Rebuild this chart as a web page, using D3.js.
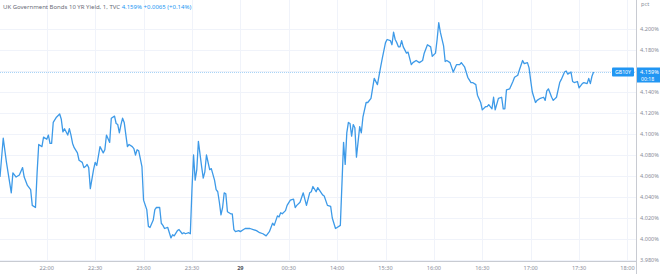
<!DOCTYPE html>
<html>
<head>
<meta charset="utf-8">
<script src="https://cdnjs.cloudflare.com/ajax/libs/d3/7.8.5/d3.min.js"></script>
<style>
  body { margin: 0; background: #fff; }
  svg { display: block; font-family: "Noto Sans", "DejaVu Sans", sans-serif; }
</style>
</head>
<body>
<svg id="chart" width="660" height="274"></svg>
<script>
// 1-minute bars, index counted from the first bar on the left
var bars = [0,2,4,7,8,10,12,14,15,17,19,20,22,23,24,26,27,29,30,31,32,33,35,37,38,39,40,42,43,44,45,46,48,49,51,52,53,54,55,56,58,59,60,62,64,65,66,68,69,71,72,73,74,75,76,77,79,80,82,83,84,85,86,88,89,91,92,
  93,95,96,97,99,100,101,102,104,105,106,107,108,110,111,113,114,115,117,118,119,120,121,122,123,125,126,127,128,130,131,133,134,135,136,137,138,139,140,141,143,144,145,146,148,149,151,152,153,155,157,159,161,163,165,167,169,170,172,173,174,175,177,178,180,182,183,184,
  186,188,190,192,193,194,196,197,200,201,203,205,206,208,209,211,213,214,215,216,217,218,219,220,221,223,224,225,227,228,230,232,234,236,237,239,240,242,243,244,245,246,247,248,249,250,252,253,255,256,258,260,262,263,265,267,268,270,271,272,273,275,276,277,
  279,281,283,285,286,288,290,292,293,295,296,298,299,301,302,303,305,306,307,309,311,312,313,314,316,318,319,321,322,324,325,327,328,329,330,332,333,335,337,338,339,340,342,343,345,347,348,350,351,352,354,355,356,358,359,361,362,364,365,366,367,368];

// yield, %
var yields = [4.059,4.096,4.073,4.044,4.063,4.059,4.061,4.068,4.059,4.051,4.047,4.032,4.030,4.063,4.090,4.088,4.097,4.095,4.099,4.091,4.091,4.111,4.116,4.119,4.114,4.102,4.105,4.099,4.105,4.099,4.091,4.087,4.082,4.075,4.073,4.068,4.069,4.071,4.068,4.048,4.066,4.073,4.070,4.088,4.082,4.085,4.099,4.092,4.115,4.117,4.110,4.109,4.101,4.109,4.115,4.111,4.088,4.090,4.088,4.086,4.080,4.085,4.084,4.069,4.037,4.028,4.012,
  4.011,4.018,4.028,4.030,4.030,4.015,4.013,4.010,4.011,4.006,4.001,4.004,4.003,4.008,4.009,4.005,4.006,4.005,4.006,4.005,4.047,4.080,4.056,4.066,4.093,4.069,4.058,4.064,4.080,4.066,4.067,4.056,4.047,4.045,4.035,4.023,4.030,4.044,4.043,4.026,4.024,4.024,4.009,4.007,4.008,4.007,4.009,4.010,4.010,4.010,4.009,4.008,4.006,4.005,4.003,4.007,4.015,4.013,4.022,4.021,4.025,4.024,4.027,4.032,4.037,4.038,4.030,4.032,
  4.035,4.044,4.032,4.044,4.045,4.050,4.045,4.049,4.042,4.041,4.032,4.031,4.020,4.010,4.011,4.013,4.092,4.071,4.101,4.111,4.110,4.098,4.109,4.106,4.078,4.107,4.101,4.116,4.130,4.130,4.134,4.153,4.147,4.164,4.172,4.187,4.190,4.189,4.185,4.197,4.190,4.187,4.183,4.183,4.189,4.183,4.177,4.178,4.166,4.168,4.170,4.168,4.170,4.177,4.185,4.183,4.174,4.177,4.190,4.206,4.197,4.184,4.169,4.170,
  4.168,4.159,4.166,4.166,4.168,4.164,4.154,4.149,4.149,4.147,4.137,4.130,4.123,4.126,4.126,4.128,4.124,4.135,4.123,4.134,4.135,4.124,4.124,4.142,4.143,4.150,4.154,4.156,4.161,4.170,4.167,4.168,4.163,4.151,4.140,4.130,4.132,4.134,4.135,4.132,4.141,4.143,4.135,4.132,4.135,4.149,4.152,4.159,4.160,4.157,4.159,4.150,4.149,4.150,4.144,4.148,4.149,4.148,4.153,4.148,4.155,4.159];

var timeLabels = ["22:00","22:30","23:00","23:30","29","00:30","14:00","15:30","16:00","16:30","17:00","17:30","18:00"];
var timeTickBars = [29,59,89,119,149,179,209,239,269,299,329,359,389];
var yTicks = [3.98,4.00,4.02,4.04,4.06,4.08,4.10,4.12,4.14,4.16,4.18,4.20];

var lastPrice = 4.159;
var titleText = "UK Government Bonds 10 YR Yield, 1, TVC";
var changeText = "+0.0065 (+0.14%)";

var svg = d3.select("#chart");
var plotW = 636, plotH = 261;
var blue = "#2196f3";

var x = d3.scaleLinear().domain([0, 394.3]).range([0, plotW]);
var y = d3.scaleLinear().domain([4.0, 4.2]).range([239, 29]);

svg.append("defs").append("clipPath").attr("id", "plotclip")
  .append("rect").attr("width", plotW).attr("height", 274);

// grid
var grid = svg.append("g").attr("clip-path", "url(#plotclip)");
grid.selectAll(".hg").data(yTicks).join("line")
  .attr("x1", 0).attr("x2", plotW)
  .attr("y1", d => Math.round(y(d)) + 0.5).attr("y2", d => Math.round(y(d)) + 0.5)
  .attr("stroke", "#f0f3fa");
grid.selectAll(".vg").data(timeTickBars).join("line")
  .attr("x1", d => Math.round(x(d)) + 0.5).attr("x2", d => Math.round(x(d)) + 0.5)
  .attr("y1", 0).attr("y2", plotH)
  .attr("stroke", "#f0f3fa");

// last price line
svg.append("line")
  .attr("x1", 0).attr("x2", plotW)
  .attr("y1", Math.round(y(lastPrice)) + 0.5).attr("y2", Math.round(y(lastPrice)) + 0.5)
  .attr("stroke", "#a9d4f7").attr("stroke-dasharray", "1,1");

// the series
var line = d3.line().x((d, i) => x(bars[i])).y(d => y(d));
svg.append("path")
  .datum(yields)
  .attr("d", line)
  .attr("fill", "none")
  .attr("stroke", "#3d9ae8")
  .attr("stroke-width", 1.3)
  .attr("stroke-linejoin", "round");

// axes frame
svg.append("line").attr("x1", 0).attr("x2", plotW).attr("y1", plotH + 0.5).attr("y2", plotH + 0.5).attr("stroke", "#c8cbd2");
svg.append("line").attr("x1", plotW + 0.5).attr("x2", plotW + 0.5).attr("y1", 0).attr("y2", 274).attr("stroke", "#c8cbd2");

// right axis labels
var yAxis = d3.axisRight(y).tickValues(yTicks).tickSize(0).tickPadding(0)
  .tickFormat(d => d3.format(".3f")(d) + "%");
var yg = svg.append("g").attr("transform", "translate(" + (plotW + 4) + ",0)").call(yAxis);
yg.select(".domain").remove();
yg.selectAll("text").attr("fill", "#8a8e99").attr("font-size", 5.6).attr("font-family", "Noto Sans, sans-serif");

svg.append("text").attr("x", plotW + 5).attr("y", 6).text("pct")
  .attr("fill", "#8a8e99").attr("font-size", 5.6);

// bottom time labels (clipped at the price scale)
var xg = svg.append("g").attr("clip-path", "url(#plotclip)");
xg.selectAll("text").data(timeTickBars).join("text")
  .attr("x", d => x(d)).attr("y", 269.5)
  .attr("text-anchor", "middle")
  .attr("font-size", 5.6)
  .attr("font-weight", (d, i) => timeLabels[i] === "29" ? "bold" : "normal")
  .attr("fill", (d, i) => timeLabels[i] === "29" ? "#50535e" : "#8a8e99")
  .text((d, i) => timeLabels[i]);

// price tag
var py = Math.round(y(lastPrice));
svg.append("rect").attr("x", 612).attr("y", py - 4.5).attr("width", 22).attr("height", 9).attr("rx", 1).attr("fill", blue);
svg.append("text").attr("x", 623).attr("y", py + 2).attr("text-anchor", "middle")
  .attr("font-size", 5.2).attr("fill", "#fff").text("GB10Y");
svg.append("rect").attr("x", plotW + 1).attr("y", py - 4.5).attr("width", 23).attr("height", 15).attr("fill", blue);
svg.append("text").attr("x", plotW + 4).attr("y", py + 2).attr("font-size", 5.6).attr("fill", "#fff").text(d3.format(".3f")(lastPrice) + "%");
svg.append("text").attr("x", plotW + 5).attr("y", py + 8.5).attr("font-size", 5.2).attr("fill", "#fff").text("00:18");

// title
var t = svg.append("text").attr("x", 3).attr("y", 9).attr("font-size", 6);
t.append("tspan").attr("fill", "#6a6d78").text(titleText + " ");
t.append("tspan").attr("fill", blue).text(" " + d3.format(".3f")(lastPrice) + "%");
t.append("tspan").attr("fill", blue).text(" " + changeText);
</script>
</body>
</html>
